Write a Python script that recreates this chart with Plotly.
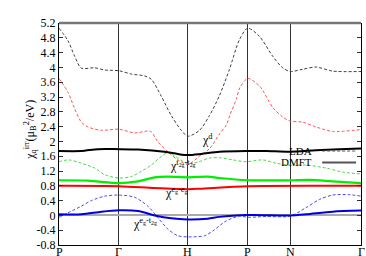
import plotly.graph_objects as go

# k-path positions of high-symmetry points (path length units)
k_ticks = [0, 60, 129, 189, 231.4, 302.4]
k_labels = ["P", "Γ", "H", "P", "N", "Γ"]

# LDA chi^d (black dashed)
lda_d_k = [0, 9, 15.7, 22.4, 35.7, 45.7, 60, 72.4, 85.7, 92.4, 102.4, 112.4, 122.4, 129,
           140.7, 150.7, 160.7, 170.7, 180.7, 189, 200.7, 214, 224, 231.4, 244, 257.4, 274, 302.4]
lda_d = [5.06, 4.72, 4.30, 3.98, 3.99, 3.93, 3.91, 3.82, 3.77, 3.68, 3.22, 2.70, 2.30, 2.14,
         2.30, 2.70, 3.24, 3.95, 4.75, 5.06, 4.84, 4.30, 3.99, 3.89, 3.95, 4.01, 3.90, 3.89]

# LDA chi^{eg-eg} (red dashed)
lda_ee_k = [0, 9, 15.7, 22.4, 29, 42.4, 60, 75.7, 89, 92.4, 99, 109, 119, 129,
            140.7, 150.7, 160.7, 167.7, 171, 177.7, 181, 189, 200.7, 214, 224, 231.4, 244, 257.4, 274, 302.4]
lda_ee = [3.70, 3.33, 2.88, 2.52, 2.39, 2.30, 2.33, 2.23, 2.28, 2.26, 1.99, 1.72, 1.50, 1.38,
          1.60, 1.80, 2.20, 2.45, 2.70, 3.15, 3.45, 3.70, 3.50, 2.92, 2.66, 2.55, 2.52, 2.39, 2.27, 2.32]

# LDA chi^{t2g-t2g} (green dashed)
lda_tt_k = [0, 10, 22.4, 35.7, 45.7, 60, 72.4, 82.4, 92.4, 102.4, 109, 116, 129,
            140, 150.7, 160.7, 174, 187.4, 204, 217.4, 231.4, 247.4, 267.4, 284, 302.4]
lda_tt = [1.45, 1.50, 1.41, 1.28, 1.10, 1.01, 1.05, 1.19, 1.36, 1.59, 1.70, 1.60, 1.40,
          1.45, 1.55, 1.56, 1.50, 1.45, 1.50, 1.41, 1.36, 1.36, 1.28, 1.17, 1.12]

# LDA chi^{eg-t2g} (blue dashed)
lda_et_k = [0, 9, 22.4, 32.4, 45.7, 60, 75.7, 89, 99, 109, 119, 129, 145.7, 154,
            167.4, 180.7, 189, 207.4, 231.4, 247.4, 260.7, 274, 290.7, 302.4]
lda_et = [-0.05, 0.07, 0.25, 0.40, 0.52, 0.55, 0.49, 0.25, -0.06, -0.37, -0.55, -0.58, -0.55, -0.42,
          -0.15, -0.02, -0.05, -0.03, -0.02, 0.21, 0.43, 0.55, 0.56, 0.52]

# DMFT chi^d (black solid)
dmft_d_k = [0, 22.4, 39, 60, 79, 105.7, 119, 129, 142.4, 160.7, 189, 207.4, 231.4, 257.4, 280.7, 302.4]
dmft_d = [1.74, 1.74, 1.79, 1.79, 1.78, 1.72, 1.66, 1.63, 1.66, 1.72, 1.74, 1.74, 1.72, 1.76, 1.79, 1.81]

# DMFT chi^{t2g-t2g} (green solid)
dmft_tt_k = [0, 29, 60, 79, 95.7, 109, 129, 149, 160.7, 189, 231.4, 250.7, 274, 302.4]
dmft_tt = [0.95, 0.94, 0.87, 0.92, 1.03, 1.05, 1.03, 1.05, 1.01, 0.95, 0.95, 0.96, 0.92, 0.87]

# DMFT chi^{eg-eg} (red solid)
dmft_ee_k = [0, 60, 95.7, 129, 140.7, 189, 302.4]
dmft_ee = [0.80, 0.79, 0.74, 0.71, 0.72, 0.79, 0.80]

# DMFT chi^{eg-t2g} (blue solid)
dmft_et_k = [0, 22.4, 42.4, 60, 79, 95.7, 112.4, 129, 149, 160.7, 189, 231.4, 247.4, 274, 302.4]
dmft_et = [0.03, 0.03, 0.10, 0.14, 0.12, 0.0, -0.08, -0.11, -0.09, -0.04, 0.01, 0.0, 0.03, 0.10, 0.13]

y_ticks = [round(-0.8 + 0.4 * i, 1) for i in range(16)]
y_ticklabels = ["%g" % v for v in y_ticks]

SERIF = "Liberation Serif"

fig = go.Figure()

series = [
    (lda_d_k, lda_d, "#404040", 1, "3px,2px"),
    (lda_ee_k, lda_ee, "#ff5555", 1, "3px,2px"),
    (lda_tt_k, lda_tt, "#44e044", 1, "3px,2px"),
    (lda_et_k, lda_et, "#4a4aff", 1, "3px,2px"),
    (dmft_d_k, dmft_d, "#000000", 2, "solid"),
    (dmft_tt_k, dmft_tt, "#00ee00", 2.2, "solid"),
    (dmft_ee_k, dmft_ee, "#ff0000", 2, "solid"),
    (dmft_et_k, dmft_et, "#0000dd", 2, "solid"),
]
for xs, ys, col, w, dash in series:
    fig.add_trace(go.Scatter(x=xs, y=ys, mode="lines",
                             line=dict(color=col, width=w, dash=dash, shape="spline", smoothing=0.8),
                             showlegend=False, hoverinfo="skip"))

fig.update_layout(
    width=366, height=256,
    margin=dict(l=59, r=4, t=23, b=8),
    paper_bgcolor="white", plot_bgcolor="white",
    font=dict(family=SERIF, size=11, color="black"),
    showlegend=False,
    xaxis=dict(range=[0, 302.4], tickvals=k_ticks, ticktext=[""] * len(k_ticks),
               showgrid=True, gridcolor="#333333", gridwidth=1.2,
               showline=True, linecolor="black", linewidth=1.2, mirror=False,
               ticks="", zeroline=False),
    yaxis=dict(range=[-0.8, 5.2], tickvals=y_ticks, ticktext=y_ticklabels,
               showgrid=False, showline=True, linecolor="black", linewidth=1.2,
               mirror="ticks", ticks="inside", ticklen=4, tickcolor="#333333",
               zeroline=True, zerolinecolor="#aaaaaa", zerolinewidth=1.5,
               tickfont=dict(size=12, family=SERIF, color="black")),
)

# x tick labels drawn as text just under the axis
for kx, lab in zip(k_ticks, k_labels):
    fig.add_annotation(text=lab, x=kx, xref="x", y=0, yref="paper", yanchor="top",
                       showarrow=False, yshift=2, font=dict(size=12, family=SERIF, color="black"))

# top frame (gray)
fig.add_shape(type="line", xref="paper", yref="paper", x0=0, x1=1, y0=1, y1=1,
              line=dict(color="#777777", width=2.5))

# axis title
fig.add_annotation(text="χ<sub>q</sub><sup>irr</sup>(μ<sub>B</sub><sup>2</sup>/eV)",
                   xref="paper", yref="paper", x=-0.13, y=0.52, textangle=-90,
                   showarrow=False, font=dict(size=12, family=SERIF, color="black"))

# curve labels
labels = [
    ("χ<sup>d</sup>", 140.7, 2.05),
    ("χ<sup>t<sub>2g</sub>-t<sub>2g</sub></sup>", 108.7, 1.36),
    ("χ<sup>e<sub>g</sub>-e<sub>g</sub></sup>", 103.7, 0.63),
    ("χ<sup>e<sub>g</sub>-t<sub>2g</sub></sup>", 71.7, -0.22),
]
for txt, x, y in labels:
    fig.add_annotation(text=txt, x=x, y=y, xref="x", yref="y", xanchor="left",
                       showarrow=False, font=dict(size=12, family=SERIF, color="black"))

# legend (text left, sample right)
leg = [("LDA", 1.74, "3px,2px", 1), ("DMFT", 1.43, "solid", 2)]
for name, y, dash, w in leg:
    fig.add_annotation(text=name, x=255.7, y=y, xref="x", yref="y", xanchor="right",
                       showarrow=False, font=dict(size=11, family=SERIF, color="black"))
    fig.add_shape(type="line", xref="x", yref="y", x0=263.5, x1=297.5, y0=y, y1=y,
                  line=dict(color="#555555", width=w, dash=dash))

fig.write_html("out.html", config={"displayModeBar": False},
               post_script="document.body.style.margin='0';document.body.style.overflow='hidden';")
